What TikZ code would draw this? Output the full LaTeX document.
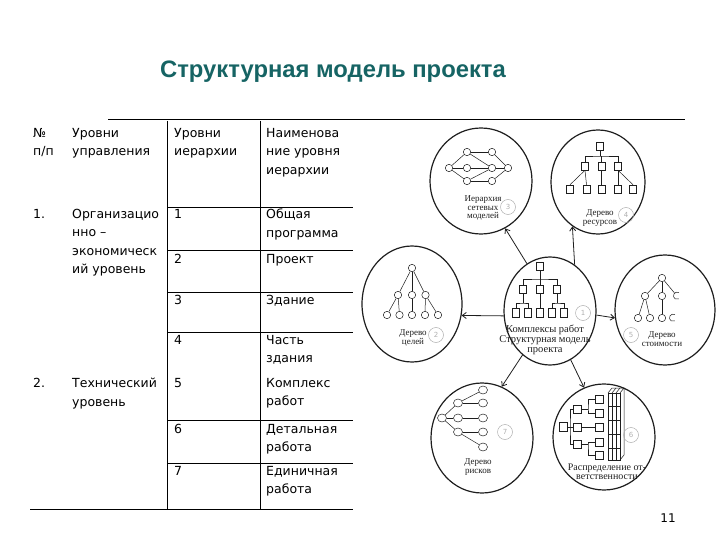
\documentclass[tikz,border=0pt]{standalone}
\usepackage{fontspec}
\usetikzlibrary{shapes.geometric,arrows.meta}
\newfontfamily\tabfont{DejaVu Sans}
\newfontfamily\ttlfont{Liberation Sans}
\newfontfamily\scanfont{Liberation Serif}
\definecolor{ttlcol}{RGB}{22,100,100}
\definecolor{inkcol}{RGB}{30,30,30}
\definecolor{pencil}{RGB}{175,175,175}
\tikzset{
 tab/.style={font=\tabfont\fontsize{12.5}{18.5}\selectfont, anchor=north west, inner sep=0pt, align=left},
 rulel/.style={line width=0.9pt},
 bigc/.style={ellipse, draw=inkcol, line width=1.2pt, inner sep=0pt},
 sq/.style={draw=inkcol, line width=0.5pt, minimum width=7pt, minimum height=8pt, inner sep=0pt},
 nd/.style={circle, draw=inkcol, line width=0.5pt, minimum size=7.4pt, inner sep=0pt},
 nde/.style={ellipse, draw=inkcol, line width=0.5pt, minimum width=9pt, minimum height=8pt, inner sep=0pt},
 ed/.style={draw=inkcol, line width=0.5pt},
 lab/.style={font=\scanfont\fontsize{9}{8.5}\selectfont, align=center, inner sep=0pt, text=inkcol},
 num/.style={circle, draw=pencil, line width=0.5pt, minimum size=15pt, inner sep=0pt, text=pencil, font=\tabfont\fontsize{7}{8}\selectfont},
 arr/.style={draw=inkcol, line width=0.8pt, -{Straight Barb[length=4pt,width=6pt]}},
}
\begin{document}
\begin{tikzpicture}[x=1pt,y=-1pt]
\useasboundingbox (0,0) rectangle (720,540);
% title
\node[font=\ttlfont\bfseries\fontsize{23.8}{28}\selectfont, text=ttlcol] (title) at (333,72) {Структурная модель проекта};
% table rules
\draw[rulel] (108,119) -- (685,119);
\draw[rulel] (167,121) -- (167,509);
\draw[rulel] (260,121) -- (260,509);
\foreach \yy in {207,250,292,332,420,463} \draw[rulel] (167,\yy) -- (353,\yy);
\draw[rulel] (30,509) -- (353,509);
% table text
\node[tab] (h1) at (33,128) {№\\п/п};
\node[tab] (h2) at (72,128) {Уровни\\управления};
\node[tab] (h3) at (174,128) {Уровни\\иерархии};
\node[tab] (h4) at (266,128) {Наименова\\ние уровня\\иерархии};
\node[tab] (r1a) at (33,209) {1.};
\node[tab] (r1b) at (72,209) {Организацио\\нно –\\экономическ\\ий уровень};
\node[tab] (r1c) at (174,209) {1};
\node[tab] (r1d) at (266,209) {Общая\\программа};
\node[tab] (r2c) at (174,254) {2};
\node[tab] (r2d) at (266,254) {Проект};
\node[tab] (r3c) at (174,295) {3};
\node[tab] (r3d) at (266,295) {Здание};
\node[tab] (r4c) at (174,335) {4};
\node[tab] (r4d) at (266,335) {Часть\\здания};
\node[tab] (r5a) at (33,378) {2.};
\node[tab] (r5b) at (72,378) {Технический\\уровень};
\node[tab] (r5c) at (174,378) {5};
\node[tab] (r5d) at (266,378) {Комплекс\\работ};
\node[tab] (r6c) at (174,424) {6};
\node[tab] (r6d) at (266,424) {Детальная\\работа};
\node[tab] (r7c) at (174,466) {7};
\node[tab] (r7d) at (266,466) {Единичная\\работа};
\node[font=\tabfont\fontsize{12}{14}\selectfont] (page) at (668,518) {11};
% big circles
\node[bigc, minimum width=92pt, minimum height=108pt] (C) at (550,311) {};
\node[bigc, minimum width=102pt, minimum height=106pt] (TL) at (481,181) {};
\node[bigc, minimum width=94pt, minimum height=104pt] (TR) at (598,182) {};
\node[bigc, minimum width=100pt, minimum height=116pt] (L) at (412,304) {};
\node[bigc, minimum width=100pt, minimum height=110pt] (R) at (665,310) {};
\node[bigc, minimum width=102pt, minimum height=110pt] (BL) at (482,438) {};
\node[bigc, minimum width=102pt, minimum height=106pt] (BR) at (604,437) {};
% arrows
\draw[arr] (C.116) -- (TL.-63);
\draw[arr] (C.62) -- (TR.-120);
\draw[arr] (C.186) -- (L.-13);
\draw[arr] (C.-5) -- (R.189);
\draw[arr] (C.238) -- (BL.69);
\draw[arr] (C.293) -- (BR.112);
% centre tree
\node[sq] (ct) at (540,266) {};
\node[sq] (cm1) at (523,289) {};
\node[sq] (cm2) at (540,289) {};
\node[sq] (cm3) at (557,289) {};
\node[sq, minimum height=9pt] (cb1) at (516,313) {};
\node[sq, minimum height=9pt] (cb2) at (528,313) {};
\node[sq, minimum height=9pt] (cb3) at (540,313) {};
\node[sq, minimum height=9pt] (cb4) at (552,313) {};
\node[sq, minimum height=9pt] (cb5) at (564,313) {};
\coordinate (cbus) at (540,279);
\coordinate (cbusL) at (523,303);
\coordinate (cbusR) at (557,303);
\draw[ed] (ct.south) -- (cm2.north);
\draw[ed] (cm1.north) |- (cbus) -| (cm3.north);
\draw[ed] (cm1.south) -- (cbusL);
\draw[ed] (cb1.north) |- (cbusL) -| (cb2.north);
\draw[ed] (cm2.south) -- (cb3.north);
\draw[ed] (cm3.south) -- (cbusR);
\draw[ed] (cb4.north) |- (cbusR) -| (cb5.north);
\node[lab, font=\scanfont\fontsize{10.5}{10}\selectfont] (clab) at (545,340) {Комплексы работ\\Структурная модель\\проекта};
\node[num] (n1) at (583,313) {1};
% top-left network
\node[nd] (a0) at (449,168) {};
\node[nd] (a1) at (467,152) {};
\node[nd] (a2) at (492,152) {};
\node[nd] (a3) at (467,168) {};
\node[nd] (a4) at (492,168) {};
\node[nd] (a5) at (508,168) {};
\node[nd] (a6) at (467,181) {};
\node[nd] (a7) at (492,181) {};
\draw[ed] (a0) -- (a1); \draw[ed] (a0) -- (a3); \draw[ed] (a0) -- (a6);
\draw[ed] (a1) -- (a2); \draw[ed] (a2) -- (a5);
\draw[ed] (a3) -- (a4); \draw[ed] (a1) -- (a4); \draw[ed] (a6) -- (a4);
\draw[ed] (a4) -- (a5); \draw[ed] (a6) -- (a7); \draw[ed] (a7) -- (a5);
\node[lab] (tllab) at (483,208) {Иерархия\\сетевых\\моделей};
\node[num] (n3) at (508,207) {3};
% top-right tree
\node[sq] (rt) at (600,146) {};
\node[sq] (rm1) at (585,166) {};
\node[sq] (rm2) at (601.5,166) {};
\node[sq] (rm3) at (618,166) {};
\node[sq] (rb1) at (570,189) {};
\node[sq] (rb2) at (586.5,189) {};
\node[sq] (rb3) at (601.5,189) {};
\node[sq] (rb4) at (618,189) {};
\node[sq] (rb5) at (633,189) {};
\coordinate (rbus) at (600,156);
\draw[ed] (rt.south) -- (rbus);
\draw[ed] (rm1.north) |- (rbus) -| (rm3.north);
\draw[ed] (rm2.north) -- (rm2.north |- rbus);
\draw[ed] (rm1.south) -- (rb1.north); \draw[ed] (rm1.south) -- (rb2.north);
\draw[ed] (rm2.south) -- (rb3.north);
\draw[ed] (rm3.south) -- (rb4.north); \draw[ed] (rm3.south) -- (rb5.north);
\node[lab] (trlab) at (600,218) {Дерево\\ресурсов};
\node[num] (n4) at (626,215) {4};
% left tree
\node[nd] (lt) at (412,268) {};
\node[nd] (lm1) at (398,295) {};
\node[nd] (lm2) at (412,295) {};
\node[nd] (lm3) at (425.5,295) {};
\node[nd] (lb1) at (387,315) {};
\node[nd] (lb2) at (399.5,315) {};
\node[nd] (lb3) at (412,315) {};
\node[nd] (lb4) at (425,315) {};
\node[nd] (lb5) at (438,315) {};
\draw[ed] (lt) -- (lm1); \draw[ed] (lt) -- (lm2); \draw[ed] (lt) -- (lm3);
\draw[ed] (lm1) -- (lb1); \draw[ed] (lm1) -- (lb2); \draw[ed] (lm2) -- (lb3);
\draw[ed] (lm3) -- (lb4); \draw[ed] (lm3) -- (lb5);
\node[lab] (llab) at (413,338) {Дерево\\целей};
\node[num] (n2) at (436,335) {2};
% right tree
\node[nd] (qt) at (662,278) {};
\node[nd] (qm1) at (645,296) {};
\node[nd] (qm2) at (662,296) {};
\node[nd, draw=none] (qm3) at (677,296) {};
\node[nd] (qb1) at (638,318) {};
\node[nd] (qb2) at (650,318) {};
\node[nd] (qb3) at (662,318) {};
\node[nd, draw=none] (qb4) at (673,318) {};
\draw[ed] (qm3.60) arc[start angle=60, end angle=300, radius=3.7pt];
\draw[ed] (qb4.60) arc[start angle=60, end angle=300, radius=3.7pt];
\draw[ed] (qt) -- (qm1); \draw[ed] (qt) -- (qm2); \draw[ed] (qt) -- (qm3);
\draw[ed] (qm1) -- (qb1); \draw[ed] (qm1) -- (qb2); \draw[ed] (qm2) -- (qb3);
\node[lab] (rlab) at (662,339) {Дерево\\стоимости};
\node[num] (n5) at (631,335) {5};
% bottom-left tree
\node[nde] (kr) at (442,418) {};
\node[nde] (k1) at (458,403) {};
\node[nde] (k2) at (458,418) {};
\node[nde] (k3) at (458,432) {};
\node[nde] (kl1) at (483,390) {};
\node[nde] (kl2) at (483,403) {};
\node[nde] (kl3) at (483,418) {};
\node[nde] (kl4) at (483,432) {};
\node[nde] (kl5) at (483,447) {};
\draw[ed] (kr) -- (k1); \draw[ed] (kr) -- (k2); \draw[ed] (kr) -- (k3);
\draw[ed] (k1) -- (kl1); \draw[ed] (k1) -- (kl2); \draw[ed] (k2) -- (kl3);
\draw[ed] (k3) -- (kl4); \draw[ed] (k3) -- (kl5);
\node[lab] (bllab) at (478,467) {Дерево\\рисков};
\node[num] (n7) at (505,432) {7};
% bottom-right tree
\node[sq, minimum width=8pt, minimum height=9pt] (pr) at (563,427) {};
\node[sq, minimum width=8pt, minimum height=8pt] (p1) at (577,409) {};
\node[sq, minimum width=8pt, minimum height=8pt] (p2) at (577,427) {};
\node[sq, minimum width=8pt, minimum height=8pt] (p3) at (577,444) {};
\node[sq, minimum width=8pt, minimum height=8pt] (pl1) at (599,399) {};
\node[sq, minimum width=8pt, minimum height=8pt] (pl2) at (599,413) {};
\node[sq, minimum width=8pt, minimum height=8pt] (pl3) at (599,427) {};
\node[sq, minimum width=8pt, minimum height=8pt] (pl4) at (599,442) {};
\node[sq, minimum width=8pt, minimum height=8pt] (pl5) at (599,455) {};
\coordinate (pbx) at (570,427);
\coordinate (pb1) at (588,409);
\coordinate (pb3) at (588,444);
\draw[ed] (pr.east) -- (p2.west);
\draw[ed] (p1.west) -| (pbx) |- (p3.west);
\draw[ed] (p1.east) -- (pb1);
\draw[ed] (pl1.west) -| (pb1) |- (pl2.west);
\draw[ed] (p2.east) -- (pl3.west);
\draw[ed] (p3.east) -- (pb3);
\draw[ed] (pl4.west) -| (pb3) |- (pl5.west);
\draw[ed] (608,393) rectangle (620,460);
\draw[ed] (612,393) -- (612,460);
\draw[ed] (616,393) -- (616,460);
\draw[ed] (608,393) -- (612,388) -- (624,388) -- (620,393);
\draw[ed] (612,393) -- (616,388);
\draw[ed] (616,393) -- (620,388);
\draw[ed] (624,388) -- (624,455) -- (620,460);
\foreach \yy in {406,420,434,448} \draw[ed] (608,\yy) -- (620,\yy);
\node[lab, font=\scanfont\fontsize{10}{9}\selectfont] (brlab) at (607,471.5) {Распределение от-\\ветственности};
\node[num] (n6) at (631,435) {6};
\end{tikzpicture}
\end{document}
